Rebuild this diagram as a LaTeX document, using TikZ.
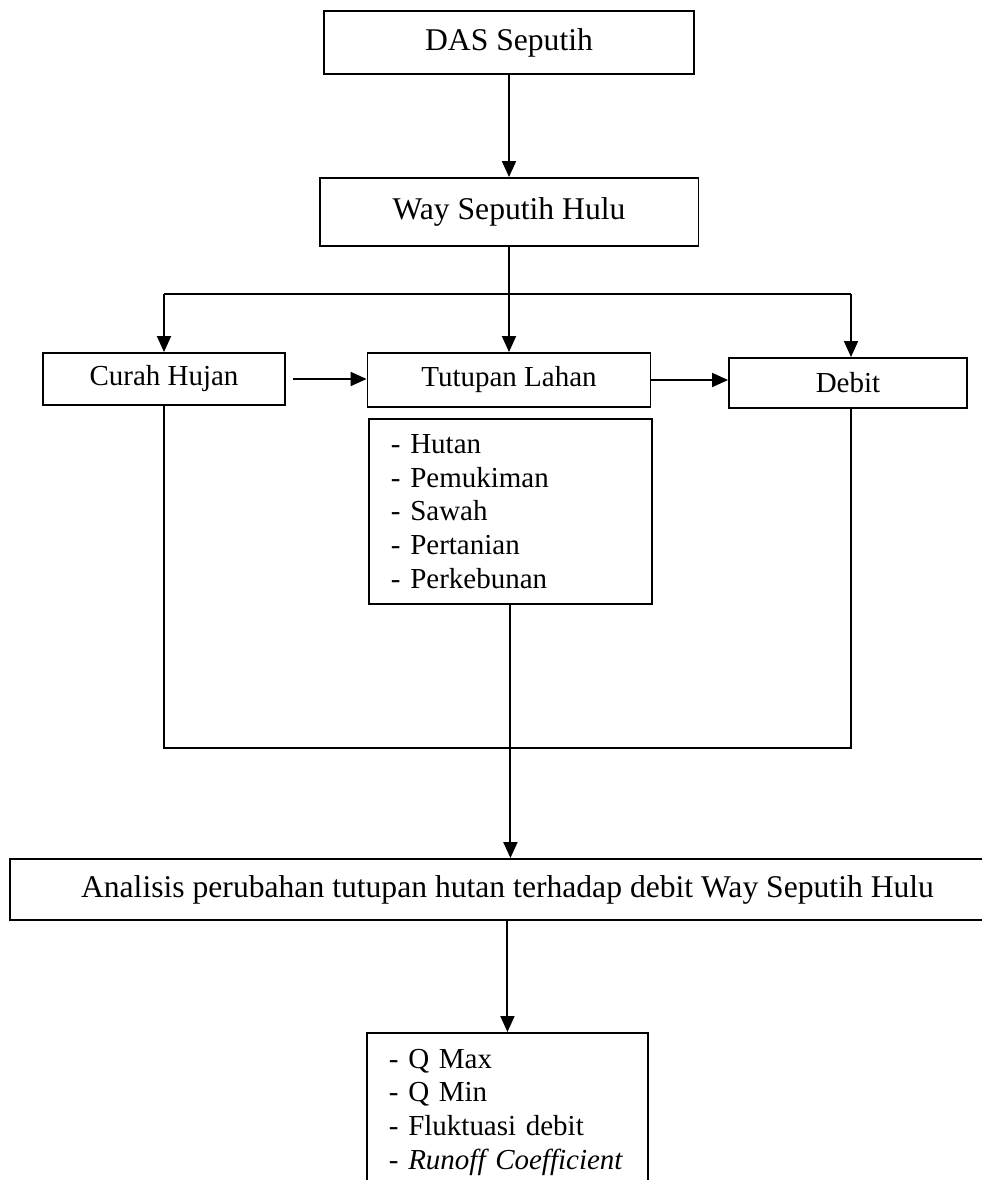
\documentclass[tikz,border=0pt]{standalone}
\usepackage{fontspec}
\setmainfont{Liberation Serif}
\usepackage{tikz}
\usetikzlibrary{arrows.meta,calc}

\begin{document}
\begin{tikzpicture}[x=0.02cm,y=-0.02cm,line width=1.1pt,
  box/.style={draw,inner sep=0pt,font=\fontsize{18}{21}\selectfont},
  subbox/.style={draw,inner sep=0pt,font=\fontsize{16.5}{19}\selectfont},
  listbox/.style={draw,anchor=north west,align=left,inner xsep=0.44cm,font=\fontsize{16.5}{19.2}\selectfont},
  arr/.style={-{Triangle[length=0.32cm,width=0.28cm]}}]
  \useasboundingbox (0,0) rectangle (982,1180);
  \clip (0,0) rectangle (982,1180);
  \node[box,minimum width=7.4cm,minimum height=1.26cm] (das) at (509,42.5) {DAS Seputih};
  \node[box,minimum width=7.58cm,minimum height=1.36cm] (way) at (509,212) {Way Seputih Hulu};
  \node[subbox,minimum width=4.84cm,minimum height=1.04cm] (curah) at (164,379) {Curah Hujan};
  \node[subbox,minimum width=5.66cm,minimum height=1.08cm] (tutupan) at (509,380) {Tutupan Lahan};
  \node[subbox,minimum width=4.76cm,minimum height=1cm] (debit) at (848,383) {Debit};
  \node[listbox,text width=4.78cm,minimum height=3.7cm] (lahan) at (368,418)
    {- Hutan\\- Pemukiman\\- Sawah\\- Pertanian\\- Perkebunan};
  \node[box,minimum width=19.9cm,minimum height=1.22cm] (analisis) at (507.5,889.5)
    {Analisis perubahan tutupan hutan terhadap debit Way Seputih Hulu};
  \node[listbox,text width=4.74cm,inner ysep=0.32cm] (hasil) at (366,1032)
    {- Q Max\\- Q Min\\- Fluktuasi debit\\- \textit{Runoff Coefficient}};
  \coordinate (cl) at (164,294);
  \coordinate (cr) at (851,294);
  \coordinate (bl) at (164,748);
  \coordinate (br) at (851,748);
  \draw[arr] (das) -- (way);
  \draw[arr] (way) -- (tutupan);
  \draw (cl) -- (cr);
  \draw[arr] (cl) -- (curah.north);
  \draw[arr] (cr) -- (cr |- debit.north);
  \draw[arr,shorten <=0.14cm] (curah.east) -- (curah.east -| tutupan.west);
  \draw[arr] (tutupan.east) -- (tutupan.east -| debit.west);
  \draw (curah.south) -- (bl) -- (br) -- (br |- debit.south);
  \draw[arr] (lahan.south) -- (lahan.south |- analisis.north);
  \draw[arr] (analisis.south -| hasil.north) -- (hasil.north);
\end{tikzpicture}
\end{document}
